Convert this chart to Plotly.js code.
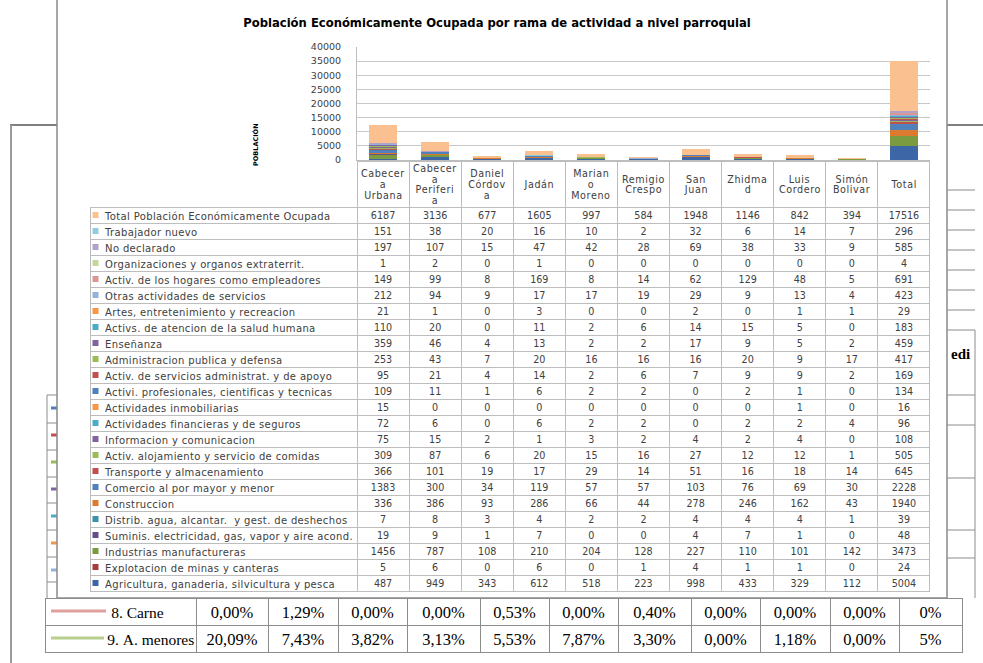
<!DOCTYPE html>
<html><head><meta charset="utf-8">
<script src="https://cdn.plot.ly/plotly-3.0.1.min.js"></script>
<style>
html,body{margin:0;padding:0;background:#fff}
#chart{width:983px;height:663px}
#chart text.cell-text[style*="DejaVu"]{transform:translateY(-3px)}
#chart text.cell-text[style*="font-size: 10px"]{letter-spacing:0.35px}
#chart g.annotation text.annotation-text[style*="font-size: 9.6px"]{letter-spacing:0.6px}
</style>
</head><body><div id="chart"></div>
<script>
// ---------- DATA ----------
const categories = ["Cabecera Urbana","Cabecera Periferia","Daniel Córdova","Jadán","Mariano Moreno","Remigio Crespo","San Juan","Zhidmad","Luis Cordero","Simón Bolivar","Total"];
const headerLabels = ["Cabecer<br>a<br>Urbana","Cabecer<br>a<br>Periferi<br>a","Daniel<br>Córdov<br>a","Jadán","Marian<br>o<br>Moreno","Remigio<br>Crespo","San<br>Juan","Zhidma<br>d","Luis<br>Cordero","Simón<br>Bolivar","Total"];

const agricultura     = [487,949,343,612,518,223,998,433,329,112,5004];
const explotacion     = [5,6,0,6,0,1,4,1,1,0,24];
const industrias      = [1456,787,108,210,204,128,227,110,101,142,3473];
const suministro      = [19,9,1,7,0,0,4,7,1,0,48];
const distribAgua     = [7,8,3,4,2,2,4,4,4,1,39];
const construccion    = [336,386,93,286,66,44,278,246,162,43,1940];
const comercio        = [1383,300,34,119,57,57,103,76,69,30,2228];
const transporte      = [366,101,19,17,29,14,51,16,18,14,645];
const alojamiento     = [309,87,6,20,15,16,27,12,12,1,505];
const informacion     = [75,15,2,1,3,2,4,2,4,0,108];
const financieras     = [72,6,0,6,2,2,0,2,2,4,96];
const inmobiliarias   = [15,0,0,0,0,0,0,0,1,0,16];
const profesionales   = [109,11,1,6,2,2,0,2,1,0,134];
const administrativas = [95,21,4,14,2,6,7,9,9,2,169];
const adminPublica    = [253,43,7,20,16,16,16,20,9,17,417];
const ensenanza       = [359,46,4,13,2,2,17,9,5,2,459];
const salud           = [110,20,0,11,2,6,14,15,5,0,183];
const artes           = [21,1,0,3,0,0,2,0,1,1,29];
const otrasServicios  = [212,94,9,17,17,19,29,9,13,4,423];
const hogares         = [149,99,8,169,8,14,62,129,48,5,691];
const organizaciones  = [1,2,0,1,0,0,0,0,0,0,4];
const noDeclarado     = [197,107,15,47,42,28,69,38,33,9,585];
const trabajadorNuevo = [151,38,20,16,10,2,32,6,14,7,296];
const totalPEO        = [6187,3136,677,1605,997,584,1948,1146,842,394,17516];

// stacking order: bottom -> top
const seriesNames = [
 "Agricultura, ganaderia, silvicultura y pesca","Explotacion de minas y canteras","Industrias manufactureras",
 "Suminis. electricidad, gas, vapor y aire acond.","Distrib. agua, alcantar.  y gest. de deshechos","Construccion",
 "Comercio al por mayor y menor","Transporte y almacenamiento","Activ. alojamiento y servicio de comidas",
 "Informacion y comunicacion","Actividades financieras y de seguros","Actividades inmobiliarias",
 "Activi. profesionales, cientificas y tecnicas","Activ. de servicios administrat. y de apoyo","Administracion publica y defensa",
 "Enseñanza","Activs. de atencion de la salud humana","Artes, entretenimiento y recreacion",
 "Otras actividades de servicios","Activ. de los hogares como empleadores","Organizaciones y organos extraterrit.",
 "No declarado","Trabajador nuevo","Total Población Económicamente Ocupada"];
const seriesData = [agricultura,explotacion,industrias,suministro,distribAgua,construccion,comercio,transporte,alojamiento,
 informacion,financieras,inmobiliarias,profesionales,administrativas,adminPublica,ensenanza,salud,artes,
 otrasServicios,hogares,organizaciones,noDeclarado,trabajadorNuevo,totalPEO];

// secondary (background) table
const rowCarne = "8. Carne";
const rowMenores = "9. A. menores";
const carnePct   = [0.00,1.29,0.00,0.00,0.53,0.00,0.40,0.00,0.00,0.00,0];
const menoresPct = [20.09,7.43,3.82,3.13,5.53,7.87,3.30,0.00,1.18,0.00,5];

// ---------- STYLE ----------
const seriesColors = ["#3D66A6","#A63D3A","#7B9B40","#664D8C","#3B93AB","#DC7A2F",
 "#4F81BD","#C0504D","#9BBB59","#8064A2","#4BACC6","#F79646",
 "#4F81BD","#C0504D","#9BBB59","#8064A2","#4BACC6","#F79646",
 "#95B3D7","#D99694","#C3D69B","#B3A2C7","#93CDDD","#FAC090"];
const W = 983, H = 663;
const X = v => v / W, Y = v => 1 - v / H;
const txt = "#404040", grid = "#c8c8c8", tblLine = "#bdbdbd";
const NB = "\u00A0";
const nb = s => s.replace(/ /g, NB);
const tableTop = 161, headerH = 46, rowH = 16;

// ---------- TRACES ----------
const traces = seriesData.map((d, i) => ({
  type: "bar", x: categories, y: d, name: seriesNames[i],
  marker: {color: seriesColors[i], line: {width: 0}}, showlegend: false, hoverinfo: "y+name"
}));

const namesTop = seriesNames.slice().reverse();
const colorsTop = seriesColors.slice().reverse();
const rowsTop = seriesData.slice().reverse();
const labelCol = namesTop.map(nb);
const numCols = categories.map((c, j) => rowsTop.map(r => r[j]));
const nCols = categories.length;

traces.push({
  type: "table",
  domain: {x: [X(90), X(930)], y: [Y(598), Y(tableTop)]},
  columnwidth: [267].concat(Array(nCols).fill(52.09)),
  header: {
    values: Array(nCols + 1).fill(""), height: headerH,
    line: {color: ["rgba(0,0,0,0)"].concat(Array(nCols).fill(tblLine)), width: 1},
    fill: {color: "rgba(0,0,0,0)"}
  },
  cells: {
    values: [labelCol].concat(numCols), height: rowH,
    prefix: [NB + NB].concat(Array(nCols).fill("")),
    align: ["left"].concat(Array(nCols).fill("center")),
    font: {family: "DejaVu Sans", size: [10].concat(Array(nCols).fill(9.6)), color: txt},
    line: {color: tblLine, width: 1},
    fill: {color: "rgba(0,0,0,0)"}
  }
});

const fmtPct = (v, i) => i < carnePct.length - 1 ? v.toFixed(2).replace(".", ",") + "%" : Math.round(v) + "%";
const serifFont = {family: "Liberation Serif", size: [15.5].concat(Array(nCols).fill(16.5)), color: "#000"};
traces.push({
  type: "table",
  domain: {x: [X(45), X(962)], y: [Y(660), Y(598)]},
  columnwidth: [151,72,70,69,73,69,69,73,69,70,69,63],
  header: {
    values: [nb(rowCarne)].concat(carnePct.map(fmtPct)), height: 27,
    align: ["left"].concat(Array(nCols).fill("center")),
    prefix: [NB.repeat(15)].concat(Array(nCols).fill("")),
    font: serifFont, line: {color: "#8c8c8c", width: 1}, fill: {color: "rgba(0,0,0,0)"}
  },
  cells: {
    values: [[nb(rowMenores)]].concat(menoresPct.map((v, i) => [fmtPct(v, i)])), height: 27,
    align: ["left"].concat(Array(nCols).fill("center")),
    prefix: [NB.repeat(14)].concat(Array(nCols).fill("")),
    font: serifFont, line: {color: "#8c8c8c", width: 1}, fill: {color: "rgba(0,0,0,0)"}
  }
});

// ---------- SHAPES (background page + chart box) ----------
const shapes = [];
const ln = (x0, y0, x1, y1, color, width) => shapes.push({type: "line", xref: "paper", yref: "paper",
  x0: X(x0), y0: Y(y0), x1: X(x1), y1: Y(y1), line: {color, width}, layer: "below"});
ln(10, 125, 57, 125, "#555", 1.5);
ln(11, 125, 11, 663, "#9a9a9a", 2);
ln(947, 125, 983, 125, "#555", 1.5);
[190, 210, 230, 250, 270, 290, 310].forEach(y => ln(947, y, 975, y, "#b0b0b0", 1.5));
ln(947, 330, 975, 330, "#8c8c8c", 1);
ln(975, 330, 975, 598, "#8c8c8c", 1);
[395, 425, 478, 530, 558].forEach(y => ln(947, y, 975, y, "#8c8c8c", 1));
ln(47, 395, 47, 598, "#8c8c8c", 1);
[395, 423, 450, 477, 503, 530, 557, 582].forEach(y => ln(47, y, 57, y, "#8c8c8c", 1));
const markCols = ["#4F81BD","#C0504D","#9BBB59","#8064A2","#4BACC6","#F79646","#95B3D7"];
[408, 435, 462, 489, 516, 543, 570].forEach((y, i) => ln(51, y, 57, y, markCols[i], 3));
ln(51, 611, 106, 611, "#E0A09E", 3);
ln(51, 638, 104, 638, "#B7CE8C", 3);
// chart area box
shapes.push({type: "rect", xref: "paper", yref: "paper", x0: X(57), x1: X(947), y0: Y(598), y1: Y(-5),
  fillcolor: "#fff", line: {color: "#8a8a8a", width: 1.5}, layer: "below"});
// legend keys of the data table
colorsTop.forEach((c, i) => {
  const yc = tableTop + headerH + rowH * i + rowH / 2;
  shapes.push({type: "rect", xref: "paper", yref: "paper", x0: X(92.5), x1: X(98.5), y0: Y(yc + 3), y1: Y(yc - 3),
    fillcolor: c, line: {width: 0}, layer: "below"});
});

// ---------- ANNOTATIONS ----------
const annotations = [];
categories.forEach((c, i) => {
  const lines = headerLabels[i].split("<br>");
  lines.forEach((t, k) => annotations.push({
    x: c, xref: "x", y: Y(184.5 + (k - (lines.length - 1) / 2) * 10.5), yref: "paper", text: t, showarrow: false,
    xanchor: "center", yanchor: "middle", borderpad: 0, font: {family: "DejaVu Sans", size: 9.6, color: txt}
  }));
});
annotations.push({x: X(255), y: Y(145), xref: "paper", yref: "paper", text: "<b>POBLACIÓN</b>", textangle: -90,
  xanchor: "center", yanchor: "middle", showarrow: false, font: {family: "DejaVu Sans", size: 6.5, color: "#000"}});
annotations.push({x: X(949), y: Y(354), xref: "paper", yref: "paper", text: "<b>edi</b>", xanchor: "left", yanchor: "middle",
  showarrow: false, font: {family: "Liberation Serif", size: 15, color: "#000"}});

const layout = {
  width: W, height: H, margin: {l: 0, r: 0, t: 0, b: 0, pad: 0},
  paper_bgcolor: "#fff", plot_bgcolor: "rgba(0,0,0,0)",
  title: {text: "<b>Población Económicamente Ocupada por rama de actividad a nivel parroquial</b>",
    x: X(497), xanchor: "center", xref: "paper", y: Y(23), yanchor: "middle", yref: "paper",
    font: {family: "DejaVu Sans", size: 11.6, color: "#000"}},
  barmode: "stack", bargap: 0.46,
  xaxis: {domain: [X(357), X(930)], showticklabels: false, ticks: "", showline: true, linecolor: tblLine,
    showgrid: false, zeroline: false, fixedrange: true},
  yaxis: {domain: [Y(160), Y(47)], range: [0, 40000], dtick: 5000, tickformat: "d", showline: true,
    linecolor: tblLine, gridcolor: grid, zeroline: false, ticks: "", ticklabelstandoff: 13,
    tickfont: {family: "DejaVu Sans", size: 9.5, color: txt}, fixedrange: true},
  shapes, annotations
};
Plotly.newPlot("chart", traces, layout, {displayModeBar: false, staticPlot: true});
</script></body></html>
